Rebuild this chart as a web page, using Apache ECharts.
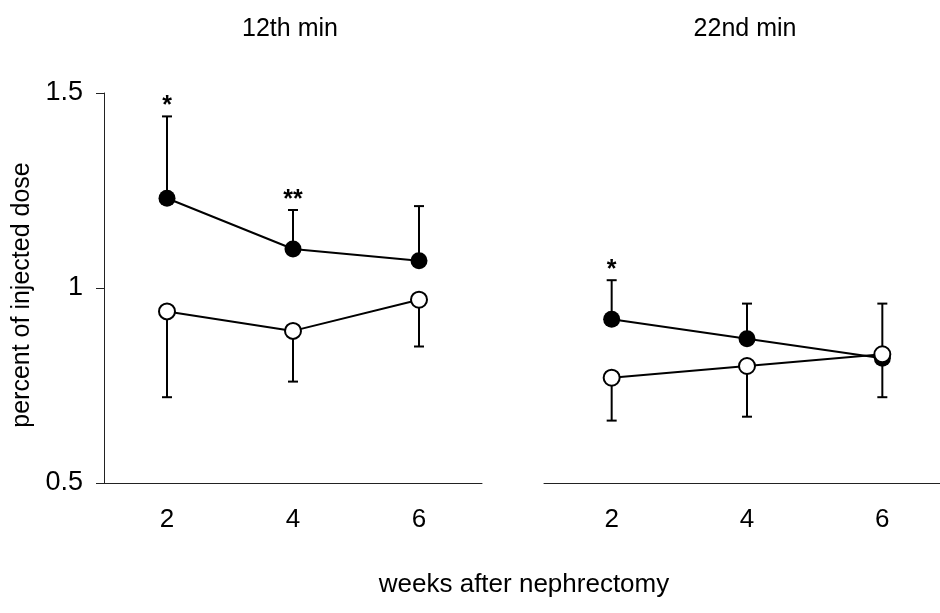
<!DOCTYPE html>
<html>
<head>
<meta charset="utf-8">
<script src="https://cdn.jsdelivr.net/npm/echarts@6/dist/echarts.min.js"></script>
<style>html,body{margin:0;padding:0;background:#fff}#c{width:940px;height:613px}</style>
</head>
<body>
<div id="c"></div>
<script>
// ---- data ----
var weeks = ['2', '4', '6'];
var yTicks = [0.5, 1, 1.5];
var panelTitles = ['12th min', '22nd min'];
var xTitle = 'weeks after nephrectomy';
var yTitle = 'percent of injected dose';

var filled12 = [1.23, 1.10, 1.07];
var filled12Hi = [1.44, 1.20, 1.21];
var open12 = [0.94, 0.89, 0.97];
var open12Lo = [0.72, 0.76, 0.85];
var sig12 = ['*', '**', ''];

var filled22 = [0.92, 0.87, 0.82];
var filled22Hi = [1.02, 0.96, 0.96];
var open22 = [0.77, 0.80, 0.83];
var open22Lo = [0.66, 0.67, 0.72];
var sig22 = ['*', '', ''];

var FONT = '"Liberation Sans", Arial, sans-serif';

function errData(center, bound, sig) {
  return center.map(function (v, i) { return [i, v, bound[i], sig ? sig[i] : '']; });
}

function errSeries(idx, data) {
  return {
    type: 'custom', xAxisIndex: idx, yAxisIndex: idx, z: 1,
    data: data,
    encode: { x: 0, y: [1, 2] },
    renderItem: function (params, api) {
      var x = api.value(0);
      var p0 = api.coord([x, api.value(1)]);
      var p1 = api.coord([x, api.value(2)]);
      var s = api.value(3);
      var cap = 5;
      var children = [
        { type: 'line', shape: { x1: p0[0], y1: p0[1], x2: p1[0], y2: p1[1] }, style: { stroke: '#000', lineWidth: 2 } },
        { type: 'line', shape: { x1: p1[0] - cap, y1: p1[1], x2: p1[0] + cap, y2: p1[1] }, style: { stroke: '#000', lineWidth: 2 } }
      ];
      if (s) {
        children.push({ type: 'text', x: p1[0], y: p1[1] - 10,
          style: { text: s, fill: '#000', font: 'bold 25px ' + FONT, align: 'center', verticalAlign: 'middle' } });
      }
      return { type: 'group', children: children };
    }
  };
}

function lineSeries(idx, vals, filled) {
  return {
    type: 'line', xAxisIndex: idx, yAxisIndex: idx, z: 3,
    data: vals,
    symbol: 'circle',
    symbolSize: filled ? 17 : 16,
    lineStyle: { color: '#000', width: 2 },
    itemStyle: filled ? { color: '#000', borderColor: '#000', borderWidth: 0 }
                      : { color: '#fff', borderColor: '#000', borderWidth: 2 },
    emphasis: { disabled: true },
    animation: false
  };
}

function yAxis(idx, show) {
  return {
    type: 'value', gridIndex: idx, min: yTicks[0], max: yTicks[yTicks.length - 1], interval: 0.5,
    show: show,
    splitLine: { show: false },
    axisLine: { show: true, lineStyle: { color: '#222', width: 1 } },
    axisTick: { show: true, length: 8, lineStyle: { color: '#222' } },
    axisLabel: { fontFamily: FONT, fontSize: 27, color: '#000', margin: 21 },
    name: show ? yTitle : '',
    nameLocation: 'middle', nameGap: 69,
    nameTextStyle: { fontFamily: FONT, fontSize: 25, color: '#000', padding: [0, 14, 0, 0] }
  };
}

function xAxis(idx) {
  return {
    type: 'category', gridIndex: idx, data: weeks, boundaryGap: true,
    axisLine: { show: true, lineStyle: { color: '#222', width: 1 } },
    axisTick: { show: false },
    axisLabel: { fontFamily: FONT, fontSize: 26, color: '#000', margin: 24 }
  };
}

var chart = echarts.init(document.getElementById('c'), null, { renderer: 'canvas' });
chart.setOption({
  animation: false,
  backgroundColor: '#fff',
  title: [
    { text: panelTitles[0], left: 285, top: 12, textAlign: 'center', textStyle: { fontFamily: FONT, fontSize: 25, fontWeight: 'normal', color: '#000' } },
    { text: panelTitles[1], left: 740, top: 12, textAlign: 'center', textStyle: { fontFamily: FONT, fontSize: 25, fontWeight: 'normal', color: '#000' } },
    { text: xTitle, left: 519, top: 567, textAlign: 'center', textStyle: { fontFamily: FONT, fontSize: 26, fontWeight: 'normal', color: '#000' } }
  ],
  grid: [
    { left: 104, top: 93, width: 378, height: 390, outerBoundsMode: 'none' },
    { left: 544, top: 93, width: 406, height: 390, outerBoundsMode: 'none' }
  ],
  xAxis: [xAxis(0), xAxis(1)],
  yAxis: [yAxis(0, true), yAxis(1, false)],
  series: [
    errSeries(0, errData(filled12, filled12Hi, sig12)),
    errSeries(0, errData(open12, open12Lo, null)),
    errSeries(1, errData(filled22, filled22Hi, sig22)),
    errSeries(1, errData(open22, open22Lo, null)),
    lineSeries(0, filled12, true),
    lineSeries(0, open12, false),
    lineSeries(1, filled22, true),
    lineSeries(1, open22, false)
  ]
});
</script>
</body>
</html>
